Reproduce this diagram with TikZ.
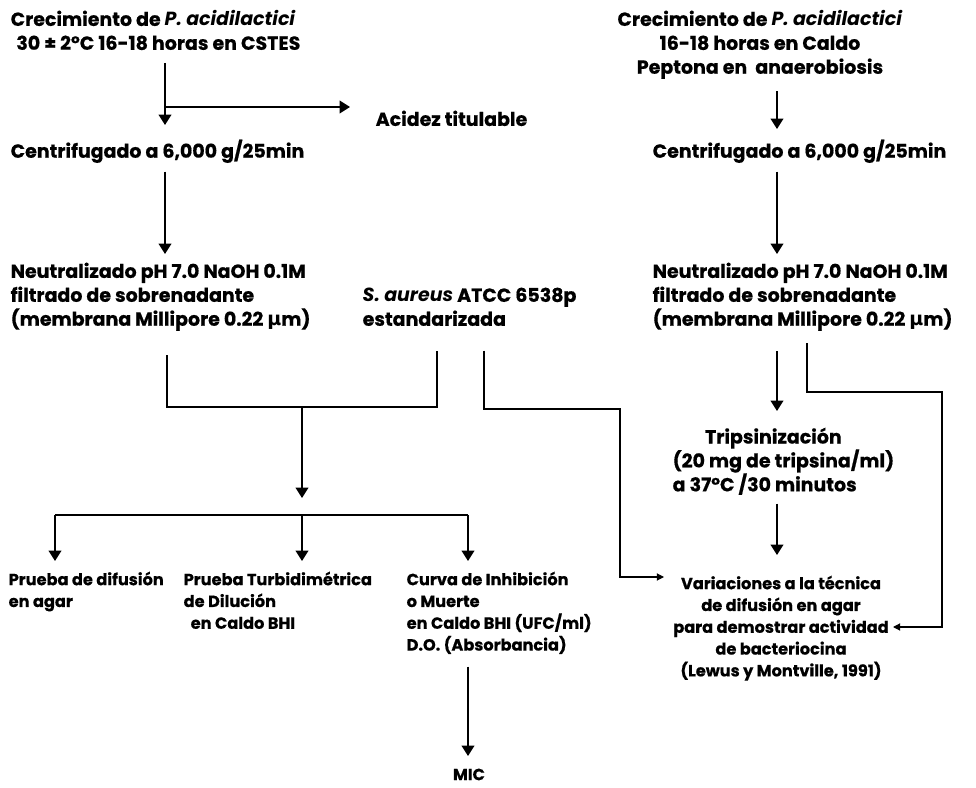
\documentclass[tikz,border=0pt]{standalone}
\usepackage{fontspec}
\setmainfont{Poppins}[BoldFeatures={FakeBold=0.6}]
\newfontfamily\symfont{DejaVu Sans}
\usetikzlibrary{arrows.meta,positioning}
\tikzset{>={Triangle[length=2.6mm,width=3.2mm]}}
\tikzset{chica/.style={-{Triangle[length=1.8mm,width=1.8mm]}}}
\newcommand{\pasofont}{\bfseries\fontsize{13.5}{17}\selectfont}
\newcommand{\um}{{\symfont\bfseries μ}m}

\begin{document}
\begin{tikzpicture}[x=0.025cm,y=-0.025cm,line width=1pt,
    paso/.style={font=\pasofont, align=left, inner sep=0pt, anchor=north west},
    pasoc/.style={paso, align=center, anchor=north},
    apretado/.style={font=\bfseries\fontsize{11.5}{15.5}\selectfont}]
      \useasboundingbox (0,0) rectangle (976,788);
      \node[paso] (crec1) at (10,10) {Crecimiento de \textit{P. acidilactici}\\\hspace{4pt}30 ± 2°C 16-18 horas en CSTES};
      \node[paso] (acidez) at (375,110) {Acidez titulable};
      \node[paso] (cent1) at (10,139) {Centrifugado a 6,000 g/25min};
      \node[paso] (neut1) at (10,262) {Neutralizado pH 7.0 NaOH 0.1M\\filtrado de sobrenadante\\(membrana Millipore 0.22 \um)};
      \node[paso] (saur) at (362,287) {\textit{S. aureus} ATCC 6538p\\estandarizada};
      \node[paso,apretado] (pdif) at (8,571) {Prueba de difusión\\en agar};
      \node[paso,apretado] (pturb) at (183,571) {Prueba Turbidimétrica\\de Dilución\\\hspace{5pt}en Caldo BHI};
      \node[paso,apretado] (curva) at (406,571) {Curva de Inhibición\\o Muerte\\en Caldo BHI (UFC/ml)\\D.O. (Absorbancia)};
      \node[pasoc,apretado] (mic) at (469,768) {MIC};
      \node[pasoc] (crec2) at (760,10) {Crecimiento de \textit{P. acidilactici}\\16-18 horas en Caldo\\Peptona en \ anaerobiosis};
      \node[paso] (cent2) at (652,139) {Centrifugado a 6,000 g/25min};
      \node[paso] (neut2) at (652,262) {Neutralizado pH 7.0 NaOH 0.1M\\filtrado de sobrenadante\\(membrana Millipore 0.22 \um)};
      \node[paso] (trip) at (672,427) {\hspace{23pt}Tripsinización\\(20 mg de tripsina/ml)\\a 37°C /30 minutos};
      \node[pasoc,apretado] (var) at (781,575) {Variaciones a la técnica\\de difusión en agar\\para demostrar actividad\\de bacteriocina\\(Lewus y Montville, 1991)};
      \coordinate (j1) at (165,107);
      \coordinate (m1) at (167,407);
      \coordinate (m2) at (437,407);
      \coordinate (mc) at (302,407);
      \coordinate (mt) at (302,498);
      \coordinate (s0) at (55,515);
      \coordinate (s1) at (302,515);
      \coordinate (s2) at (468,515);
      \coordinate (v1) at (484,409);
      \coordinate (v2) at (620,409);
      \coordinate (v3) at (620,577);
      \coordinate (v4) at (664,577);
      \coordinate (xr) at (777,0);
      \coordinate (t1) at (807,392);
      \coordinate (t2) at (942,392);
      \coordinate (t3) at (942,627);
      \coordinate (t4) at (893,627);
      \draw[->,shorten <=0.3cm,shorten >=0.35cm] (crec1.south -| j1) -- (cent1.north -| j1);
      \draw[->] (j1) -- ++(185,0) coordinate (a1);
      \draw[->,shorten <=0.2cm,shorten >=0.2cm] (cent1.south -| j1) -- (neut1.north -| j1);
      \draw[shorten <=0.6cm,shorten >=0.6cm] (neut1.south -| m1) -- (m1) -- (m2) -- (saur.south -| m2);
      \draw[->] (mc) -- (mt);
      \draw (s0) -- (s2);
      \draw[->,shorten >=0.25cm] (s0) -- (pdif.north -| s0);
      \draw[->,shorten >=0.25cm] (s1) -- (pturb.north -| s1);
      \draw[->,shorten >=0.25cm] (s2) -- (curva.north -| s2);
      \draw[->,shorten <=0.3cm,shorten >=0.3cm] (curva.south -| s2) -- (mic.north -| s2);
      \draw[chica,line width=0.8pt,shorten <=0.6cm] (saur.south -| v1) -- (v1) -- (v2) -- (v3) -- (v4);
      \draw[->,shorten <=0.3cm,shorten >=0.25cm] (crec2.south -| xr) -- (cent2.north -| xr);
      \draw[->,shorten <=0.2cm,shorten >=0.2cm] (cent2.south -| xr) -- (neut2.north -| xr);
      \draw[->,shorten <=0.5cm,shorten >=0.4cm] (neut2.south -| xr) -- (trip.north -| xr);
      \draw[chica,line width=0.8pt,shorten <=0.3cm] (neut2.south -| t1) -- (t1) -- (t2) -- (t3) -- (t4);
      \draw[->,shorten <=0.2cm,shorten >=0.5cm] (trip.south -| xr) -- (var.north -| xr);
\end{tikzpicture}
\end{document}
